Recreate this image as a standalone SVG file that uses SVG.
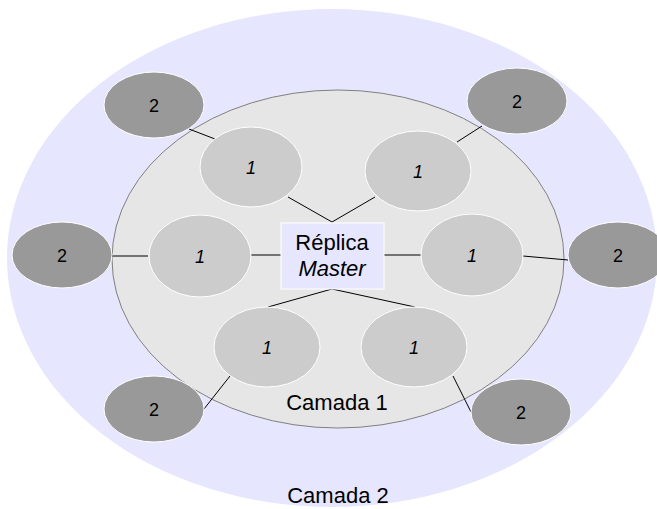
<svg xmlns="http://www.w3.org/2000/svg" width="657" height="509" viewBox="0 0 657 509">
<style>
.t{font-family:"Liberation Sans",Arial,sans-serif;fill:#000;text-anchor:middle}
.n1{fill:#cccccc;stroke:#ffffff;stroke-width:1}
.n2{fill:#999999;stroke:#ffffff;stroke-width:1}
.c line{stroke:#000;stroke-width:1}
</style>
<rect width="657" height="509" fill="#ffffff"/>
<g id="camada2">
<ellipse cx="332" cy="258" rx="325" ry="249" fill="#e6e6ff"/>
<text class="t" x="338" y="503" font-size="22">Camada 2</text>
</g>
<g id="camada1">
<ellipse cx="338" cy="259" rx="226" ry="169" fill="#e6e6e6" stroke="#808080" stroke-width="1"/>
<text class="t" x="337" y="410" font-size="22">Camada 1</text>
</g>
<g class="c" id="connectors">
<line x1="288" y1="197" x2="332" y2="222"/>
<line x1="375" y1="197" x2="332" y2="222"/>
<line x1="251" y1="255" x2="281" y2="255"/>
<line x1="384" y1="255" x2="421" y2="255"/>
<line x1="332" y1="289" x2="268" y2="307"/>
<line x1="332" y1="289" x2="415" y2="307"/>
<line x1="189" y1="129" x2="215" y2="139"/>
<line x1="482" y1="126" x2="457" y2="142"/>
<line x1="111" y1="256" x2="148" y2="256"/>
<line x1="523" y1="256" x2="568" y2="260"/>
<line x1="230" y1="376" x2="204" y2="409"/>
<line x1="453" y1="376" x2="471" y2="412"/>
</g>
<g id="master">
<rect x="281" y="223" width="103" height="66" fill="#e6e6ff" stroke="#ffffff" stroke-width="1"/>
<text class="t" x="332" y="250" font-size="22">Réplica</text>
<text class="t" x="332" y="276" font-size="22" font-style="italic">Master</text>
</g>
<g id="n1a"><ellipse class="n1" cx="251" cy="167" rx="51" ry="40"/><text class="t" x="251" y="174" font-size="18" font-style="italic">1</text></g>
<g id="n1b"><ellipse class="n1" cx="418" cy="171" rx="53" ry="40"/><text class="t" x="418" y="178" font-size="18" font-style="italic">1</text></g>
<g id="n1c"><ellipse class="n1" cx="200" cy="256" rx="51" ry="41"/><text class="t" x="200" y="263" font-size="18" font-style="italic">1</text></g>
<g id="n1d"><ellipse class="n1" cx="472" cy="255" rx="51" ry="41"/><text class="t" x="472" y="262" font-size="18" font-style="italic">1</text></g>
<g id="n1e"><ellipse class="n1" cx="267" cy="347" rx="53" ry="40"/><text class="t" x="267" y="354" font-size="18" font-style="italic">1</text></g>
<g id="n1f"><ellipse class="n1" cx="414" cy="347" rx="53" ry="40"/><text class="t" x="414" y="354" font-size="18" font-style="italic">1</text></g>
<g id="n2a"><ellipse class="n2" cx="154" cy="105" rx="50" ry="33"/><text class="t" x="154" y="112" font-size="18">2</text></g>
<g id="n2b"><ellipse class="n2" cx="517" cy="101" rx="50" ry="33"/><text class="t" x="517" y="108" font-size="18">2</text></g>
<g id="n2c"><ellipse class="n2" cx="62" cy="255" rx="50" ry="33"/><text class="t" x="62" y="262" font-size="18">2</text></g>
<g id="n2d"><ellipse class="n2" cx="618" cy="255" rx="50" ry="33"/><text class="t" x="618" y="262" font-size="18">2</text></g>
<g id="n2e"><ellipse class="n2" cx="154" cy="409" rx="50" ry="33"/><text class="t" x="154" y="416" font-size="18">2</text></g>
<g id="n2f"><ellipse class="n2" cx="521" cy="412" rx="50" ry="33"/><text class="t" x="521" y="419" font-size="18">2</text></g>
</svg>
